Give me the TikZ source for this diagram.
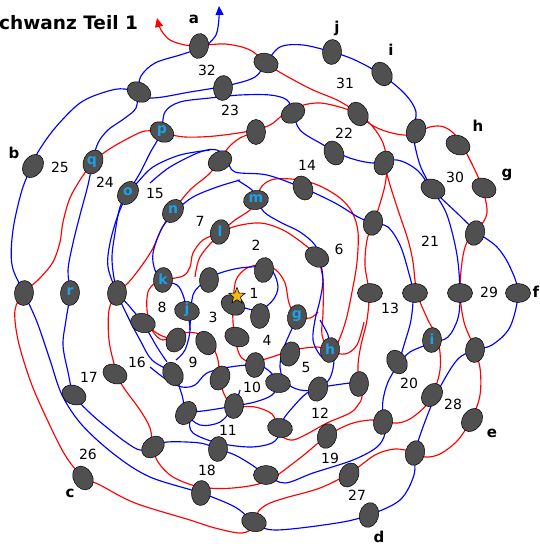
\documentclass[tikz,border=0pt]{standalone}
\usepackage{fontspec}
\setmainfont{DejaVu Sans}
\usetikzlibrary{shapes.geometric,arrows.meta}
\definecolor{ellgray}{RGB}{80,80,80}
\definecolor{cyanl}{RGB}{30,160,230}
\definecolor{stary}{RGB}{245,185,20}
\begin{document}
\begin{tikzpicture}[x=1pt,y=-1pt,
  ell/.style={fill=ellgray,draw=black,line width=0.5pt},
  rl/.style={draw=red,line width=1.15pt},
  bl/.style={draw=blue,line width=1.15pt},
  num/.style={font=\fontsize{14}{14}\selectfont},
  let/.style={font=\bfseries\fontsize{15}{15}\selectfont},
  inl/.style={font=\bfseries\fontsize{14}{14}\selectfont,text=cyanl},
  tip/.style={-{Triangle[length=9pt,width=8pt]}}]
\useasboundingbox (0,0) rectangle (539,546);
\newcommand{\E}[3]{\draw[ell] (#1,#2) ellipse [x radius=12.5, y radius=9.5, rotate=-#3];}
% ---------------- red curves
\draw[rl,tip] plot[smooth,tension=0.55] coordinates {(199,46)(185,45)(170,40)(161,30)(157,18)};
\draw[rl] plot[smooth,tension=0.55] coordinates {(199,46)(225,44)(250,50)(270,66)(290,78)(313,90)(337,100)(355,111)(370,124)(388,132)(410,135)(430,127)(444,127)(457,137)(470,160)(482,187)(487,213)(478,229)(467,242)(462,262)(460,293)(464,322)(473,345)(480,368)(480,395)(472,418)(458,440)(440,454)(425,457)(413,452)(395,449)(375,455)(350,473)(320,488)(285,498)(268,504)(258,512)(256,525)(242,533)(215,528)(190,520)(135,503)(100,485)(83,477)(65,455)(45,415)(30,380)(18,340)(15,310)(24,293)(40,278)(53,262)(60,242)(63,222)(70,198)(82,177)(93,163)(105,152)(125,140)(145,131)(162,133)(185,137)(215,136)(250,131)(270,125)(283,115)(300,106)(320,103)(343,108)(360,115)(373,127)(383,143)(387,163)(385,185)(378,210)(373,223)(367,240)(365,265)(369,293)(367,320)(361,345)(358,365)(359,384)(362,397)(358,405)(350,413)(327,423)(307,434)(293,440)(283,437)(278,428)(272,414)(255,407)(234,406)(225,396)(220,380)(218,360)(212,346)(200,334)(180,333)(163,340)(152,330)(147,310)(148,292)(155,283)(163,280)(183,276)(190,267)(193,253)(203,240)(220,232)(235,220)(250,210)(256,200)(262,186)(275,179)(300,180)(320,186)(340,198)(352,212)(358,232)(357,262)(352,292)(346,320)(338,342)(330,350)};
\draw[rl] plot[smooth,tension=0.55] coordinates {(195,277)(200,257)(217,237)(233,227)(260,223)(283,230)(305,245)(317,257)(323,280)(323,313)(322,335)(330,350)(345,354)(357,345)(364,322)};
\draw[rl] plot[smooth,tension=0.55] coordinates {(233,303)(236,280)(247,268)(262,265)(276,270)(285,283)(289,303)(296,316)(310,318)(318,312)};
\draw[rl] plot[smooth,tension=0.55] coordinates {(233,307)(233,322)(236,343)(241,357)(252,362)(272,357)(293,350)(317,347)(330,350)};
\draw[rl] plot[smooth,tension=0.55] coordinates {(256,132)(240,138)(228,148)(220,161)(208,175)(190,190)(173,211)(162,228)(152,250)(140,268)(128,283)(117,293)(109,310)(109,340)(115,367)(122,385)(140,410)(150,428)(153,447)(158,462)(173,477)(200,487)(233,488)(267,481)(300,458)(327,436)(350,424)(370,420)(383,421)(398,423)(413,417)(430,400)(440,370)(438,340)(428,320)(417,293)(413,262)(408,240)(398,210)(390,185)(384,163)};
\draw[rl] plot[smooth,tension=0.55] coordinates {(143,323)(160,335)(176,340)};
% ---------------- blue curves
\draw[bl,tip] plot[smooth,tension=0.55] coordinates {(205,47)(216,35)(219,18)(219,6)};
\draw[bl] plot[smooth,tension=0.55] coordinates {(205,47)(180,55)(155,63)(141,76)(138,92)(136,108)(125,118)(108,130)(98,143)(93,160)(88,185)(80,215)(73,243)(68,270)(70,293)(66,320)(63,345)(68,372)(74,395)(90,413)(110,430)(127,443)(140,450)(153,447)(167,442)(200,443)(218,449)(235,455)(252,465)(266,475)(285,483)(313,473)(353,460)(377,447)(385,433)(383,415)(383,400)(388,382)(398,365)(410,352)(432,343)(448,337)(458,318)(460,293)(457,255)(447,215)(433,190)(420,165)(413,133)(416,112)(405,94)(382,75)(355,60)(332,52)(303,45)(280,47)(266,63)(255,77)(230,85)(190,92)(150,98)(125,89)(105,92)(80,103)(55,128)(38,152)(32,166)(22,190)(13,230)(12,265)(24,293)(37,322)(50,360)(62,395)(82,425)(115,455)(150,477)(201,493)(235,507)(254,522)(275,530)(337,523)(369,515)(400,500)(414,475)(415,453)(423,427)(437,393)(457,360)(475,350)(492,345)(510,327)(518,293)(510,267)(497,247)(477,232)(457,213)(433,190)(417,170)(397,160)(373,163)(347,157)(320,143)(300,130)(293,113)(287,100)(270,95)(240,95)(210,98)(180,102)(165,112)(161,133)(150,153)(140,173)(128,193)(118,215)(110,243)(108,267)(117,293)(127,315)(140,340)(152,360)(173,374)(182,395)(186,413)(200,425)(220,422)(234,406)(240,390)};
\draw[bl] plot[smooth,tension=0.55] coordinates {(150,367)(167,380)(182,387)(195,385)(207,373)(230,367)(255,365)(268,370)(278,383)(272,395)(255,402)(234,406)(210,410)(186,413)};
\draw[bl] plot[smooth,tension=0.55] coordinates {(297,318)(290,333)(283,350)(280,367)(285,382)(300,390)(318,389)(330,378)(334,360)(330,350)(328,335)(320,320)};
\draw[bl] plot[smooth,tension=0.55] coordinates {(350,383)(323,387)(307,393)(293,407)(283,420)(280,433)(272,443)(250,447)(218,443)(193,433)(190,420)(197,410)};
\draw[bl] plot[smooth,tension=0.55] coordinates {(190,330)(193,295)(207,280)(220,273)(240,268)(262,267)(273,272)(278,287)(273,300)(260,310)(245,308)(235,302)};
\draw[bl] plot[smooth,tension=0.55] coordinates {(237,180)(252,190)(258,200)(264,212)(280,222)(300,232)(315,245)(320,260)(323,280)(320,300)(315,320)(313,340)(320,355)(330,362)};
\draw[bl] plot[smooth,tension=0.55] coordinates {(240,180)(217,187)(193,197)(177,210)(162,228)(153,253)(155,270)(163,280)(177,285)(183,295)(187,311)(190,330)(185,350)(176,360)};
\draw[bl] plot[smooth,tension=0.55] coordinates {(150,183)(170,167)(200,152)(217,150)(227,160)(235,172)(267,175)(303,188)(335,203)(358,217)(373,223)(388,227)(400,245)(408,270)(413,293)(411,320)(404,345)(398,365)};
\draw[bl] plot[smooth,tension=0.55] coordinates {(210,150)(180,155)(153,167)(137,183)(128,193)(120,207)(115,233)(112,260)(117,290)(130,307)(143,323)(157,347)(167,362)};
% ---------------- ellipses
\E{199}{46}{100}\E{266}{63}{20}\E{139}{92}{30}\E{223}{88}{95}\E{162}{132}{30}
\E{256}{132}{90}\E{93}{162}{115}\E{33}{166}{125}\E{332}{52}{95}\E{382}{74}{60}
\E{293}{113}{150}\E{358}{114}{60}\E{416}{131}{110}\E{458}{145}{25}\E{334}{153}{65}
\E{384}{163}{115}\E{303}{188}{65}\E{220}{161}{150}\E{433}{189}{25}\E{484}{188}{25}
\E{373}{223}{105}\E{475}{233}{105}\E{256}{200}{170}\E{173}{211}{125}\E{128}{193}{125}
\E{220}{232}{105}\E{317}{257}{30}\E{264}{270}{100}\E{209}{280}{95}\E{163}{280}{95}
\E{24}{293}{95}\E{70}{293}{95}\E{117}{293}{95}\E{370}{293}{0}\E{415}{293}{0}
\E{460}{293}{0}\E{518}{293}{0}\E{187}{311}{10}\E{233}{305}{30}\E{260}{316}{95}
\E{297}{317}{100}\E{143}{323}{15}\E{176}{340}{115}\E{206}{343}{60}\E{237}{337}{20}
\E{290}{354}{110}\E{330}{350}{100}\E{432}{340}{95}\E{475}{350}{95}\E{397}{362}{60}
\E{255}{365}{95}\E{115}{374}{25}\E{173}{374}{60}\E{220}{378}{115}\E{278}{383}{10}
\E{318}{389}{110}\E{359}{384}{95}\E{432}{395}{125}\E{74}{395}{25}\E{234}{406}{95}
\E{186}{413}{125}\E{280}{428}{10}\E{327}{436}{105}\E{383}{422}{100}\E{472}{420}{125}
\E{153}{447}{140}\E{218}{449}{95}\E{415}{453}{105}\E{83}{478}{60}\E{266}{475}{0}
\E{349}{475}{115}\E{201}{493}{95}\E{369}{515}{105}\E{254}{522}{15}
% ---------------- letters inside ellipses
\foreach \t/\x/\y in {p/162/131,q/92/162,o/128/192,n/173/210,m/256/199,l/220/231,k/163/279,r/70/292,j/187/310,g/297/316,h/330/349,i/432/339}
  \node[inl] at (\x,\y) {\t};
% ---------------- star
\node[star,star points=5,star point ratio=2.3,minimum size=17pt,inner sep=0pt,fill=stary,draw=black,line width=0.6pt] (st) at (237,296) {};
% ---------------- numbers
\foreach \t/\x/\y in {32/207/70,23/230/110,31/345/83,22/344/133,25/60/167,24/105/182,15/155/193,14/307/165,30/455/177,7/200/221,6/339/249,2/256/245,21/430/241,1/254/293,29/489/292,8/162/307,3/213/317,13/390/308,4/267/340,9/193/362,5/306/367,10/252/387,20/409/383,17/89/377,16/137/362,28/453/404,12/320/413,11/228/430,19/330/458,26/88/454,18/207/470,27/357/495}
  \node[num] at (\x,\y) {\t};
% ---------------- letters
\foreach \t/\x/\y in {a/194/19,j/337/28,i/391/50,h/478/126,g/507/175,f/536/292,e/492/433,d/379/537,c/70/493,b/14/153}
  \node[let] at (\x,\y) {\t};
\node[anchor=west,inner sep=0pt,font=\bfseries\fontsize{18.5}{18.5}\selectfont] (title) at (-1,23) {chwanz Teil 1};
\end{tikzpicture}
\end{document}
